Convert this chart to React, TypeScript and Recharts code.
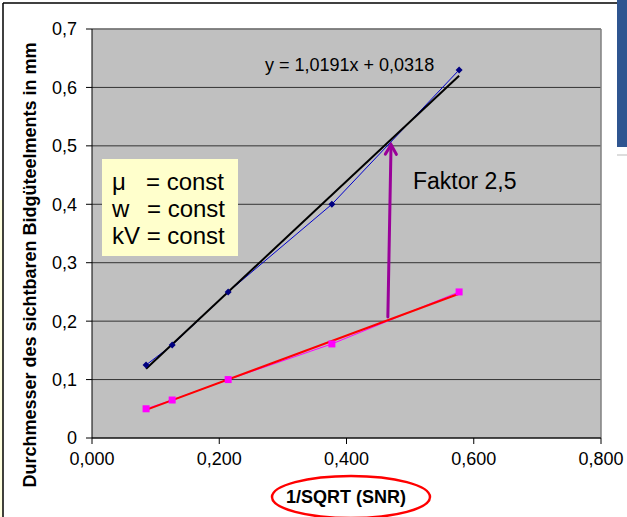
import React from "react"
import { ComposedChart, Line, XAxis, YAxis, CartesianGrid, ReferenceLine } from "recharts"

const xValues = [0.085, 0.126, 0.214, 0.377, 0.577]
const blueValues = [0.125, 0.159, 0.25, 0.4, 0.63]
const pinkValues = [0.05, 0.065, 0.1, 0.161, 0.25]
const yTicks = [0, 0.1, 0.2, 0.3, 0.4, 0.5, 0.6, 0.7]
const xTicks = [0, 0.2, 0.4, 0.6, 0.8]
const trendSlope = 1.0191
const trendIntercept = 0.0318
const arrowStart = { x: 0.465, y: 0.207 }
const arrowEnd = { x: 0.47, y: 0.502 }

const font = "'Liberation Sans', Arial, sans-serif"

const blueData = xValues.map((x, i) => ({ x, y: blueValues[i] }))
const pinkData = xValues.map((x, i) => ({ x, y: pinkValues[i] }))

// least squares fit for the pink series
function fit(xs: number[], ys: number[]) {
  const n = xs.length
  const mx = xs.reduce((a, b) => a + b, 0) / n
  const my = ys.reduce((a, b) => a + b, 0) / n
  let sxy = 0
  let sxx = 0
  xs.forEach((x, i) => {
    sxy += (x - mx) * (ys[i] - my)
    sxx += (x - mx) * (x - mx)
  })
  const slope = sxy / sxx
  return { slope, intercept: my - slope * mx }
}

const pinkFit = fit(xValues, pinkValues)
const xMin = Math.min(...xValues)
const xMax = Math.max(...xValues)

const Diamond = (props: any) => {
  const { cx, cy } = props
  if (cx == null || cy == null) return null
  const s = 3.5
  return <polygon points={`${cx},${cy - s} ${cx + s},${cy} ${cx},${cy + s} ${cx - s},${cy}`} fill="#000080" />
}

const Square = (props: any) => {
  const { cx, cy } = props
  if (cx == null || cy == null) return null
  return <rect x={cx - 3.5} y={cy - 3.5} width={7} height={7} fill="#FF00FF" />
}

const Arrow = (props: any) => {
  const { x1, y1, x2, y2 } = props
  const dx = x2 - x1
  const dy = y2 - y1
  const len = Math.sqrt(dx * dx + dy * dy)
  const ux = dx / len
  const uy = dy / len
  const a = Math.PI / 6
  const h = 11
  const lx = x2 - h * (ux * Math.cos(a) - uy * Math.sin(a))
  const ly = y2 - h * (uy * Math.cos(a) + ux * Math.sin(a))
  const rx = x2 - h * (ux * Math.cos(-a) - uy * Math.sin(-a))
  const ry = y2 - h * (uy * Math.cos(-a) + ux * Math.sin(-a))
  return (
    <g stroke="#990099" strokeWidth={3} fill="none" strokeLinecap="round">
      <line x1={x1} y1={y1} x2={x2} y2={y2} />
      <polyline points={`${lx},${ly} ${x2},${y2} ${rx},${ry}`} />
    </g>
  )
}

const fmtY = (v: number) => (v === 0 ? "0" : v.toFixed(1).replace(".", ","))
const fmtX = (v: number) => v.toFixed(3).replace(".", ",")

export default function App() {
  return (
    <div style={{ position: "absolute", left: 0, top: 0, width: 627, height: 517, background: "#fff", fontFamily: font }}>
      <ComposedChart width={627} height={517} margin={{ top: 29, right: 26, bottom: 49, left: 0 }}>
        <CartesianGrid vertical={false} stroke="#333" fill="#C0C0C0" fillOpacity={1} horizontalValues={yTicks} />
        <XAxis
          type="number"
          dataKey="x"
          domain={[0, 0.8]}
          ticks={xTicks}
          tickFormatter={fmtX}
          height={30}
          stroke="#000"
          tickSize={6}
          tickMargin={8}
          tick={{ fontSize: 18, fill: "#000", fontFamily: font }}
        />
        <YAxis
          type="number"
          domain={[0, 0.7]}
          ticks={yTicks}
          tickFormatter={fmtY}
          width={92}
          stroke="#000"
          tickSize={6}
          tickMargin={9}
          tick={{ fontSize: 18, fill: "#000", fontFamily: font }}
        />
        <ReferenceLine y={0.7} stroke="#808080" strokeWidth={1.5} />
        <ReferenceLine x={0.8} stroke="#808080" strokeWidth={1.5} />
        <Line
          data={blueData}
          dataKey="y"
          type="linear"
          stroke="#0000CC"
          strokeWidth={1}
          dot={<Diamond />}
          isAnimationActive={false}
        />
        <Line
          data={pinkData}
          dataKey="y"
          type="linear"
          stroke="#FF00FF"
          strokeWidth={1}
          dot={<Square />}
          isAnimationActive={false}
        />
        <ReferenceLine
          segment={[
            { x: xMin, y: trendSlope * xMin + trendIntercept },
            { x: xMax, y: trendSlope * xMax + trendIntercept },
          ]}
          stroke="#000"
          strokeWidth={2}
        />
        <ReferenceLine
          segment={[
            { x: xMin, y: pinkFit.slope * xMin + pinkFit.intercept },
            { x: xMax, y: pinkFit.slope * xMax + pinkFit.intercept },
          ]}
          stroke="#FF0000"
          strokeWidth={2}
        />
        <ReferenceLine segment={[arrowStart, arrowEnd]} shape={<Arrow />} />
      </ComposedChart>
      <svg width={627} height={517} style={{ position: "absolute", left: 0, top: 0, pointerEvents: "none" }} fontFamily={font}>
        <rect x={0} y={200} width={3} height={317} fill="#FFFFE0" />
        <line x1={3} y1={3} x2={617} y2={3} stroke="#000" strokeWidth={1.5} />
        <line x1={3} y1={3} x2={3} y2={517} stroke="#000" strokeWidth={1.5} />
        <rect x={617} y={0} width={10} height={147} fill="#2F5590" />
        <line x1={617} y1={155} x2={627} y2={155} stroke="#ddd" strokeWidth={2} />
        <rect x={102} y={159} width={136} height={97} fill="#FFFFCC" />
        <text x={112} y={190} fontSize={24} fill="#000">μ</text>
        <text x={224} y={190} fontSize={24} fill="#000" textAnchor="end">= const</text>
        <text x={112} y={217} fontSize={24} fill="#000">w</text>
        <text x={225} y={217} fontSize={24} fill="#000" textAnchor="end">= const</text>
        <text x={112} y={244} fontSize={24} fill="#000">kV = const</text>
        <text x={413} y={189} fontSize={23} fill="#000">Faktor 2,5</text>
        <text x={265} y={71} fontSize={18} fill="#000">y = 1,0191x + 0,0318</text>
        <text
          x={36}
          y={265}
          fontSize={18}
          fontWeight="bold"
          textAnchor="middle"
          transform="rotate(-90 36 265)"
          fill="#000"
        >
          Durchmesser des sichtbaren Bidgüteelments in mm
        </text>
        <text x={346} y={503} fontSize={18} fontWeight="bold" textAnchor="middle" fill="#000">
          1/SQRT (SNR)
        </text>
        <ellipse cx={351} cy={497} rx={79} ry={21} fill="none" stroke="#FF0000" strokeWidth={2.5} />
      </svg>
    </div>
  )
}
